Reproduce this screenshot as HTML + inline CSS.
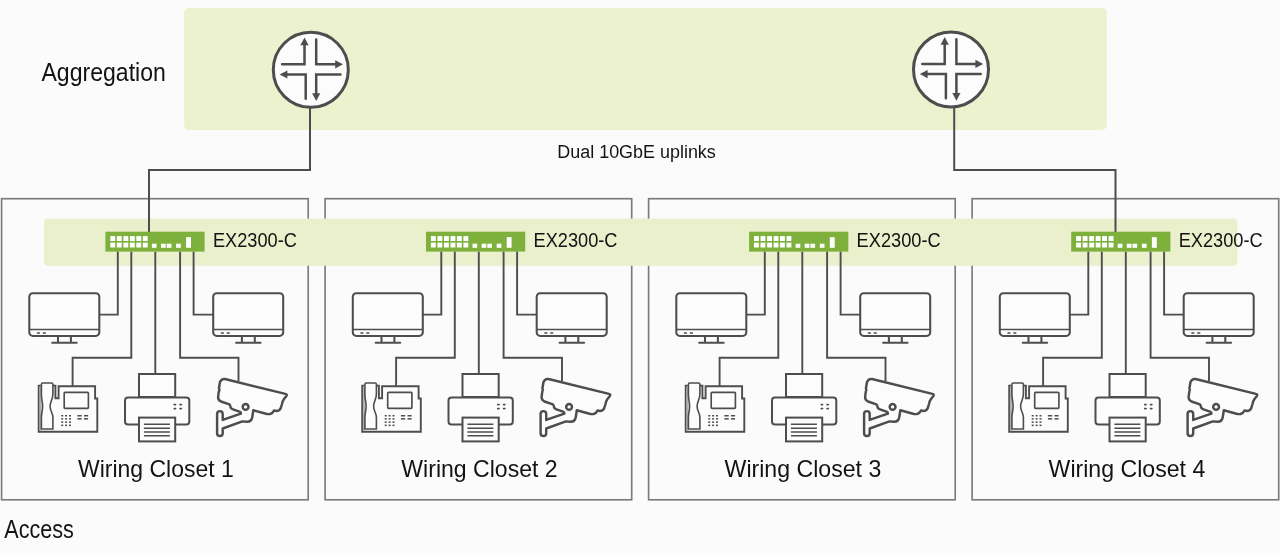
<!DOCTYPE html>
<html><head><meta charset="utf-8"><title>EX2300-C campus</title>
<style>
html,body{margin:0;padding:0;background:#fbfbfb;}
body{width:1280px;height:553px;overflow:hidden;position:relative;}
svg{position:absolute;left:0;top:0;display:block;will-change:transform;}
text{font-family:"Liberation Sans",sans-serif;fill:#131313;}
.lg{font-size:25px;}
.wc{font-size:24.3px;}
.md{font-size:19.2px;}
.sm{font-size:19.9px;}
</style></head>
<body>
<svg width="1280" height="553" viewBox="0 0 1280 553">
<defs>
<symbol id="switch" overflow="visible">
<rect x="0" y="0" width="99.2" height="19.9" fill="#7db13b"/>
<rect x="4.9" y="4.4" width="4.9" height="4.9" fill="#fff"/><rect x="4.9" y="10.9" width="4.9" height="4.9" fill="#fff"/><rect x="11.4" y="4.4" width="4.9" height="4.9" fill="#fff"/><rect x="11.4" y="10.9" width="4.9" height="4.9" fill="#fff"/><rect x="18.0" y="4.4" width="4.9" height="4.9" fill="#fff"/><rect x="18.0" y="10.9" width="4.9" height="4.9" fill="#fff"/><rect x="24.5" y="4.4" width="4.9" height="4.9" fill="#fff"/><rect x="24.5" y="10.9" width="4.9" height="4.9" fill="#fff"/><rect x="30.9" y="4.4" width="4.9" height="4.9" fill="#fff"/><rect x="30.9" y="10.9" width="4.9" height="4.9" fill="#fff"/><rect x="37.4" y="4.4" width="4.9" height="4.9" fill="#fff"/><rect x="37.4" y="10.9" width="4.9" height="4.9" fill="#fff"/><rect x="46.5" y="12" width="4.7" height="4.1" fill="#fff"/><rect x="55.6" y="12" width="4.7" height="4.1" fill="#fff"/><rect x="61.3" y="12" width="4.7" height="4.1" fill="#fff"/><rect x="70.7" y="12" width="4.7" height="4.1" fill="#fff"/><rect x="80.7" y="5.5" width="4.9" height="10.6" fill="#fff"/>
</symbol>
<g id="wires" fill="none" stroke="#4d4d4d" stroke-width="1.9">
<path d="M117.8 251.6 V314.6 H99.3"/>
<path d="M131.3 251.6 V357.7 H72.6 V386.2"/>
<path d="M155.3 251.6 V374"/>
<path d="M180.1 251.6 V357.7 H238.5 V381"/>
<path d="M193.6 251.6 V314.6 H213.2"/>
</g>
<g id="mon" fill="none" stroke="#4d4d4d" stroke-width="2.05">
<rect x="29.3" y="293.2" width="70" height="42.7" rx="3.5" fill="#fcfcfc"/>
<path d="M29.3 329.4 H99.3" stroke-width="1.5"/>
<path d="M58 336 V342.7 M70.9 336 V342.7"/>
<path d="M52.2 342.7 H76.7" stroke-linecap="round"/>
<path d="M37.6 333 H39.3 M43.5 333 H45.2" stroke-width="1.7" stroke-linecap="round"/>
</g>
<g id="phone" fill="none" stroke="#4d4d4d" stroke-width="1.9">
<path d="M40.8 385.6 H38.7 V431.8 H97.3 V398.5 H95.1 V386.2 H58.6 V398.2 H55.4 V385.6 H52.6" fill="#fcfcfc"/>
<rect x="39.4" y="386.5" width="2" height="44" fill="#b0b0b0" stroke="none"/><path d="M42.6 383 H51.5 Q52.9 383 52.9 384.5 V394 C52.9 400 50.1 401 50.1 406.3 C50.1 411.5 52.9 412.5 52.9 417.6 V429 H41.4 V417.6 C41.4 412.5 42.6 411.5 42.6 406.3 C42.6 401 41.4 400 41.4 394 V384.5 Q41.4 383 42.6 383 Z" stroke-width="1.6" fill="#fcfcfc"/>
<rect x="64.2" y="392.3" width="24.2" height="16" rx="0.8" stroke-width="1.65"/>
<g stroke="none" fill="#4d4d4d">
<rect x="61.2" y="415" width="2" height="1.5"/><rect x="65.1" y="415" width="2" height="1.5"/><rect x="69" y="415" width="2" height="1.5"/>
<rect x="61.2" y="418.1" width="2" height="1.5"/><rect x="65.1" y="418.1" width="2" height="1.5"/><rect x="69" y="418.1" width="2" height="1.5"/>
<rect x="61.2" y="421.4" width="2" height="1.5"/><rect x="65.1" y="421.4" width="2" height="1.5"/><rect x="69" y="421.4" width="2" height="1.5"/>
<rect x="61.2" y="424.6" width="2" height="1.5"/><rect x="65.1" y="424.6" width="2" height="1.5"/><rect x="69" y="424.6" width="2" height="1.5"/>
<rect x="77.4" y="415" width="4.3" height="1.5"/><rect x="84" y="415" width="4.1" height="1.5"/>
<rect x="77.4" y="418.1" width="4.3" height="1.5"/><rect x="84" y="418.1" width="4.1" height="1.5"/>
</g>
</g>
<g id="printer" fill="none" stroke="#4d4d4d" stroke-width="2">
<rect x="139" y="374" width="36.2" height="23" fill="#fcfcfc"/>
<rect x="125" y="397.4" width="64.3" height="27" rx="3" fill="#fcfcfc"/>
<rect x="139" y="417.6" width="36.2" height="23.8" fill="#fcfcfc"/>
<path d="M143.9 424.3 H169.9 M143.9 428.2 H169.9 M143.9 432 H169.9 M143.9 435.7 H169.9" stroke-width="1.45"/>
<path d="M174.2 404.6 H175.6 M180 404.6 H181.4 M174.2 408.6 H175.6 M180 408.6 H181.4" stroke-width="1.6" stroke-linecap="round"/>
</g>
<g id="camera" fill="none" stroke="#4d4d4d" stroke-width="2.45" stroke-linejoin="round">
<path fill="#fcfcfc" d="M225 379 L285.4 393.9 Q287.6 394.2 286.2 396.2 L284 399 Q282.5 401 282 404 L280.8 408 Q279.5 411 276.5 411 L274 410.5 Q273 413 270 414 Q268 414.3 266 413.8 L253.3 410.2 L252.3 417 Q251.5 421.8 247 421.8 L242.4 421.4 L222.7 428.5 L222.7 433.3 A2.8 2.8 0 0 1 217.1 433.3 L217.1 413.9 A2.8 2.8 0 0 1 222.7 413.9 L222.7 419.9 L240.9 413.7 Q241 412 240.2 411.9 L233 409.4 Q230.5 408.5 230.4 406.5 Q230 404.5 229.4 404.3 L221 401.5 Q218 400 218.1 397 L218.8 391.5 Q220 390 218.9 388.5 L220 382 Q221.5 378.5 225 379 Z"/>
<circle cx="245.6" cy="406.9" r="2.9"/>
</g>
<g id="router" fill="none" stroke="#4d4d4d">
<circle cx="0" cy="0" r="37.5" stroke-width="3" fill="#fcfcfc"/>
<g stroke-width="2.5" stroke-linecap="round">
<path d="M-28.7 -5.5 H-6.3 V-25"/>
<path d="M5.4 -30.2 V-5.5 H25"/>
<path d="M-24 4.7 H-5.1 V28.9"/>
<path d="M29.7 4.7 H5.4 V24"/>
</g>
<g fill="#4d4d4d" stroke="none">
<path d="M-6.3 -32.4 L-10.4 -24.6 L-2.2 -24.6 Z"/>
<path d="M32.2 -5.5 L24.4 -9.6 L24.4 -1.4 Z"/>
<path d="M-31.2 4.7 L-23.4 0.6 L-23.4 8.8 Z"/>
<path d="M5.4 31.3 L1.3 23.5 L9.5 23.5 Z"/>
</g>
</g>
</defs>
<rect x="184.2" y="8" width="922.6" height="122" rx="5" fill="#ecf1ce"/>
<rect x="1.60" y="198.7" width="306.6" height="301.1" fill="none" stroke="#7b7b7b" stroke-width="1.65"/>
<rect x="325.10" y="198.7" width="306.6" height="301.1" fill="none" stroke="#7b7b7b" stroke-width="1.65"/>
<rect x="648.60" y="198.7" width="306.6" height="301.1" fill="none" stroke="#7b7b7b" stroke-width="1.65"/>
<rect x="972.10" y="198.7" width="306.6" height="301.1" fill="none" stroke="#7b7b7b" stroke-width="1.65"/>
<rect x="44" y="218.5" width="1193.4" height="47.3" rx="4" fill="#eaefcc"/>
<path d="M310 107 V170 H149 V232" fill="none" stroke="#4d4d4d" stroke-width="2"/>
<path d="M954.2 107 V170 H1115.5 V232" fill="none" stroke="#4d4d4d" stroke-width="2"/>
<use href="#router" transform="translate(310.8,69.8)"/>
<use href="#router" transform="translate(951,69.4)"/>
<g transform="translate(0.00,0)">
<use href="#wires"/><use href="#mon" /><use href="#mon" transform="translate(183.9,0)"/><use href="#phone"/><use href="#printer"/><use href="#camera"/>
</g>
<use href="#switch" transform="translate(105.40,231.7)"/>
<text x="212.90" y="246.9" class="sm" textLength="84" lengthAdjust="spacingAndGlyphs">EX2300-C</text>
<g transform="translate(323.50,0)">
<use href="#wires"/><use href="#mon" /><use href="#mon" transform="translate(183.9,0)"/><use href="#phone"/><use href="#printer"/><use href="#camera"/>
</g>
<use href="#switch" transform="translate(426.00,231.7)"/>
<text x="533.50" y="246.9" class="sm" textLength="84" lengthAdjust="spacingAndGlyphs">EX2300-C</text>
<g transform="translate(647.00,0)">
<use href="#wires"/><use href="#mon" /><use href="#mon" transform="translate(183.9,0)"/><use href="#phone"/><use href="#printer"/><use href="#camera"/>
</g>
<use href="#switch" transform="translate(749.10,231.7)"/>
<text x="856.60" y="246.9" class="sm" textLength="84" lengthAdjust="spacingAndGlyphs">EX2300-C</text>
<g transform="translate(970.50,0)">
<use href="#wires"/><use href="#mon" /><use href="#mon" transform="translate(183.9,0)"/><use href="#phone"/><use href="#printer"/><use href="#camera"/>
</g>
<use href="#switch" transform="translate(1071.20,231.7)"/>
<text x="1178.70" y="246.9" class="sm" textLength="84" lengthAdjust="spacingAndGlyphs">EX2300-C</text>
<text x="78" y="476.6" class="wc" textLength="155.7" lengthAdjust="spacingAndGlyphs">Wiring Closet 1</text>
<text x="401.3" y="476.6" class="wc" textLength="156.4" lengthAdjust="spacingAndGlyphs">Wiring Closet 2</text>
<text x="724.6" y="476.6" class="wc" textLength="156.7" lengthAdjust="spacingAndGlyphs">Wiring Closet 3</text>
<text x="1048.6" y="476.6" class="wc" textLength="156.7" lengthAdjust="spacingAndGlyphs">Wiring Closet 4</text>
<text x="41.5" y="80.9" class="lg" textLength="124.3" lengthAdjust="spacingAndGlyphs">Aggregation</text>
<text x="4.3" y="537.9" class="lg" textLength="69.6" lengthAdjust="spacingAndGlyphs">Access</text>
<text x="557.3" y="157.9" class="md" textLength="158.5" lengthAdjust="spacingAndGlyphs">Dual 10GbE uplinks</text>
</svg>
</body></html>
